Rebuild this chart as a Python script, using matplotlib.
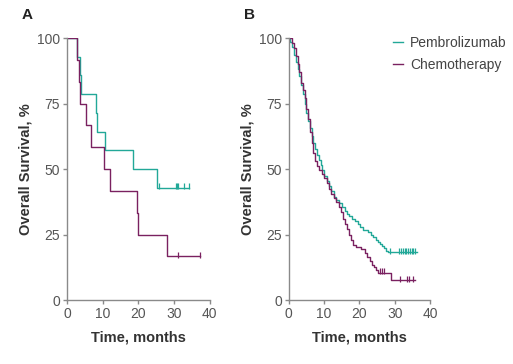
import numpy as np
import matplotlib
matplotlib.use("Agg")
from matplotlib import pyplot as plt

plt.rcParams["font.family"] = ["Liberation Sans", "DejaVu Sans"]

TEAL = "#22a898"
PURPLE = "#7a2160"
GRAY = "#8a8a8a"

# Panel A - Kaplan-Meier step points (months, % surviving)
a_pem_t = [0, 2.8, 3.6, 3.8, 8.1, 8.5, 10.7, 18.4, 25.3, 34.3]
a_pem_s = [100, 92.9, 85.7, 78.6, 71.4, 64.3, 57.1, 50.0, 42.9, 42.9]
a_pem_cens_t = [25.9, 30.5, 30.8, 31.0, 32.9, 34.1]
a_pem_cens_s = [42.9, 42.9, 42.9, 42.9, 42.9, 42.9]

a_chemo_t = [0, 2.8, 3.3, 3.6, 5.3, 6.8, 10.3, 12.0, 19.5, 20.0, 28.1, 37.3]
a_chemo_s = [100, 91.7, 83.3, 75.0, 66.7, 58.3, 50.0, 41.7, 33.3, 25.0, 16.7, 16.7]
a_chemo_cens_t = [31.1, 37.3]
a_chemo_cens_s = [16.7, 16.7]

# Panel B
b_pem_t = [0, 0.5, 1.0, 1.5, 2.0, 2.5, 3.0, 3.5, 4.0, 4.5, 5.0, 5.5, 6.0, 6.5, 7.0,
           7.5, 8.0, 8.5, 9.0, 9.5, 10.0, 10.7, 11.3, 12.0, 12.7, 13.4, 14.2, 15.0,
           15.8, 16.5, 17.2, 18.0, 18.8, 19.5, 20.2, 21.0, 22.5, 23.3, 24.0, 24.6,
           25.2, 25.8, 26.4, 27.0, 27.6, 28.2, 36.2]
b_pem_s = [100, 98.5, 96.5, 93.5, 91, 88, 85.5, 82, 78.5, 75, 71.5, 68.5, 65.5, 62.5, 60,
           57.5, 55.5, 53.5, 51.5, 49.5, 47.5, 45.5, 43.5, 41.5, 39.5, 38, 37, 35.5,
           34, 33, 32, 31, 30, 29, 28, 26.7, 26, 25, 24, 23, 22, 21.2, 20.5, 19.7,
           18.8, 18.2, 18.2]
b_pem_cens_t = [28.8, 31.3, 31.8, 32.3, 32.8, 33.3, 33.8, 34.3, 34.8, 35.3, 35.8]
b_pem_cens_s = [18.2] * 11

b_chemo_t = [0, 1.0, 1.5, 2.0, 2.5, 3.0, 3.5, 4.0, 4.5, 5.0, 5.5, 6.0, 6.5, 7.0, 7.5,
             8.0, 8.7, 9.4, 10.0, 10.7, 11.3, 12.0, 12.7, 13.4, 14.1, 14.8, 15.5,
             16.0, 16.5, 17.0, 17.5, 18.2, 19.0, 20.5, 21.5, 22.3, 23.0, 23.6, 24.2,
             24.8, 25.3, 29.1, 35.8]
b_chemo_s = [100, 98, 96, 93, 90, 87, 83, 80, 77, 73, 69, 64, 60, 56, 53,
             51, 49.5, 48, 46.5, 44.5, 42.5, 40.5, 39, 37.5, 35.5, 33.5, 31,
             29, 27, 25, 23, 21, 20.3, 19.5, 18, 16.5, 15, 13.5, 12.5,
             11.5, 10.3, 7.5, 7.5]
b_chemo_cens_t = [25.8, 26.3, 27.0, 31.5, 33.5, 34.0, 35.3]
b_chemo_cens_s = [10.3, 10.3, 10.3, 7.5, 7.5, 7.5, 7.5]

x_ticks = [0, 10, 20, 30, 40]
y_ticks = [0, 25, 50, 75, 100]


def km_panel(ax, series, letter):
    for t, s, ct, cs, color, label in series:
        ax.step(t, s, where="post", color=color, lw=1.0, label=label)
        ax.plot(ct, np.array(cs) + 0.6, ls="none", marker="|", ms=4,
                mew=0.9, color=color)
    ax.set_xlim(0, 40)
    ax.set_ylim(0, 100)
    ax.set_xticks(x_ticks)
    ax.set_yticks(y_ticks)
    for side in ["top", "right"]:
        ax.spines[side].set_visible(False)
    for side in ["left", "bottom"]:
        ax.spines[side].set_color(GRAY)
        ax.spines[side].set_linewidth(1.0)
    ax.tick_params(colors=GRAY, labelcolor="#555555", labelsize=10,
                   length=3, width=1.0, pad=2)
    ax.set_xlabel("Time, months", fontsize=10.5, fontweight="bold",
                  color="#333333", labelpad=7)
    ax.set_ylabel("Overall Survival, %", fontsize=10.5, fontweight="bold",
                  color="#333333", labelpad=3)
    ax.text(-0.315, 1.088, letter, transform=ax.transAxes, fontsize=11,
            fontweight="bold", color="#222222", va="center")


fig = plt.figure(figsize=(5.13, 3.64), dpi=100)
ax_a = fig.add_axes([0.1306, 0.1758, 0.278, 0.7198])
ax_b = fig.add_axes([0.5628, 0.1758, 0.2754, 0.7198])

km_panel(ax_a, [
    (a_pem_t, a_pem_s, a_pem_cens_t, a_pem_cens_s, TEAL, "Pembrolizumab"),
    (a_chemo_t, a_chemo_s, a_chemo_cens_t, a_chemo_cens_s, PURPLE, "Chemotherapy"),
], "A")
km_panel(ax_b, [
    (b_pem_t, b_pem_s, b_pem_cens_t, b_pem_cens_s, TEAL, "Pembrolizumab"),
    (b_chemo_t, b_chemo_s, b_chemo_cens_t, b_chemo_cens_s, PURPLE, "Chemotherapy"),
], "B")

leg = ax_b.legend(loc="upper left", bbox_to_anchor=(0.70, 1.03), frameon=False,
                  fontsize=10, handlelength=0.72, handletextpad=0.5,
                  labelspacing=0.58, borderaxespad=0)
for txt in leg.get_texts():
    txt.set_color("#444444")

fig.savefig("out.png", dpi=100)
